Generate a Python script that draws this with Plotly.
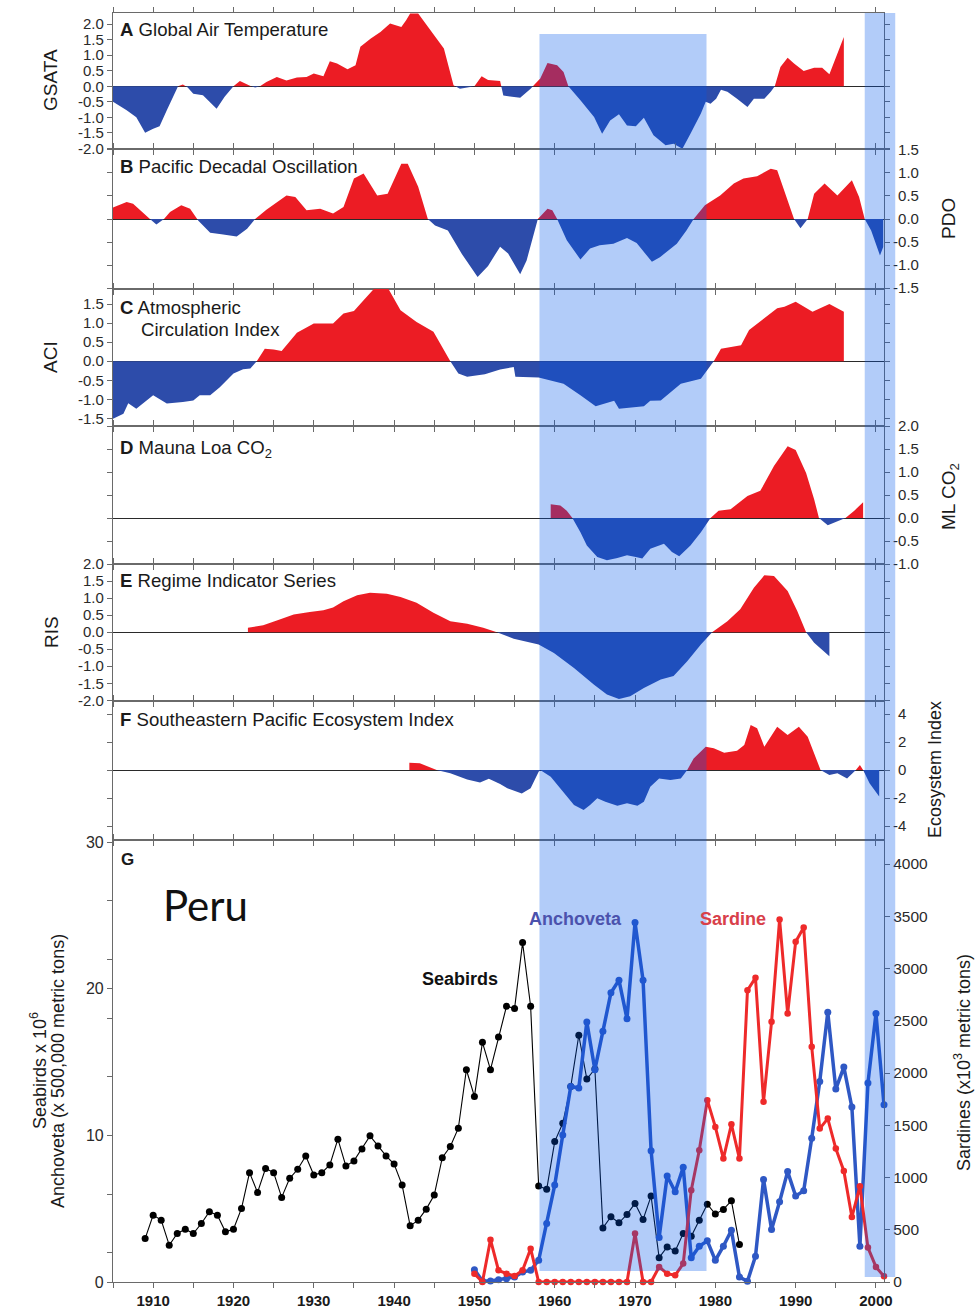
import plotly.graph_objects as go

# ---------------- DATA ----------------
# Panel A: Global Air Temperature (GSATA)
years_A = [1905.0, 1906.7, 1907.9, 1909.0, 1910.0, 1910.8, 1911.7, 1912.5, 1913.1, 1913.7, 1914.3, 1915.0,
           1916.2, 1917.9, 1918.9, 1920.0, 1920.8, 1921.8, 1922.7, 1923.3, 1924.1, 1925.4, 1926.6, 1927.9,
           1929.1, 1930.0, 1931.2, 1932.0, 1932.9, 1934.2, 1935.2, 1935.8, 1937.1, 1938.3, 1939.5, 1940.9,
           1941.5, 1942.0, 1943.0, 1944.5, 1946.2, 1947.4, 1948.2, 1949.2, 1950.0, 1950.9, 1951.7, 1953.2,
           1953.6, 1955.7, 1957.0, 1957.6, 1958.2, 1959.1, 1960.3, 1961.1, 1961.7, 1963.2, 1964.9, 1965.9,
           1966.9, 1968.0, 1969.0, 1970.1, 1971.1, 1972.3, 1973.8, 1974.8, 1975.9, 1976.9, 1978.2, 1978.8,
           1979.4, 1980.1, 1980.7, 1981.5, 1982.7, 1984.0, 1984.8, 1986.1, 1986.9, 1987.4, 1988.1, 1989.0,
           1989.8, 1991.0, 1992.3, 1993.3, 1994.2, 1995.2, 1996.0]
vals_A = [-0.5, -0.77, -1.0, -1.5, -1.37, -1.29, -0.77, -0.34, 0.0, 0.06, -0.04, -0.24,
          -0.29, -0.72, -0.34, 0.0, 0.17, 0.03, -0.04, 0.0, 0.14, 0.30, 0.19, 0.28,
          0.30, 0.41, 0.32, 0.81, 0.73, 0.55, 0.68, 1.27, 1.54, 1.75, 2.02, 1.91,
          2.13, 2.34, 2.34, 1.81, 1.22, 0.03, -0.08, -0.04, 0.0, 0.32, 0.20, 0.17,
          -0.30, -0.37, -0.08, 0.09, 0.25, 0.75, 0.68, 0.46, 0.0, -0.45, -0.99, -1.53,
          -1.10, -0.90, -1.26, -1.29, -1.01, -1.58, -1.90, -1.85, -2.01, -1.53, -0.88, -0.50,
          -0.56, -0.40, -0.11, -0.18, -0.40, -0.67, -0.40, -0.40, -0.18, 0.0, 0.62, 0.92,
          0.73, 0.49, 0.60, 0.60, 0.39, 1.05, 1.59]

# Panel B: Pacific Decadal Oscillation (PDO)
years_B = [1905.0, 1906.7, 1907.5, 1909.2, 1910.4, 1911.2, 1912.1, 1913.5, 1914.6, 1915.6, 1917.1, 1918.5,
           1920.4, 1921.7, 1922.7, 1924.1, 1925.4, 1926.6, 1927.7, 1929.1, 1930.8, 1932.4, 1933.7, 1935.0,
           1936.2, 1937.9, 1939.2, 1940.9, 1941.7, 1943.0, 1944.2, 1945.1, 1946.7, 1948.4, 1950.4, 1951.7,
           1953.2, 1954.2, 1955.7, 1956.5, 1957.9, 1959.1, 1959.7, 1960.3, 1961.5, 1963.2, 1964.4, 1965.6,
           1967.3, 1969.0, 1970.2, 1972.1, 1973.1, 1975.2, 1976.4, 1977.3, 1978.7, 1980.6, 1982.3, 1983.5,
           1985.2, 1986.9, 1987.7, 1989.8, 1990.6, 1991.5, 1992.3, 1993.6, 1995.2, 1997.0, 1997.9, 1998.6,
           1999.4, 2000.5, 2000.9]
vals_B = [0.25, 0.37, 0.33, 0.06, -0.12, -0.03, 0.15, 0.30, 0.22, -0.03, -0.30, -0.33,
          -0.38, -0.21, 0.0, 0.20, 0.37, 0.51, 0.48, 0.19, 0.22, 0.12, 0.26, 0.88,
          0.99, 0.51, 0.55, 1.20, 1.20, 0.70, 0.0, -0.14, -0.25, -0.75, -1.26, -1.02,
          -0.60, -0.75, -1.20, -0.90, 0.0, 0.22, 0.19, 0.0, -0.46, -0.88, -0.64, -0.57,
          -0.54, -0.41, -0.52, -0.93, -0.83, -0.54, -0.25, 0.0, 0.30, 0.51, 0.77, 0.88,
          0.93, 1.09, 1.06, 0.0, -0.20, 0.0, 0.55, 0.77, 0.51, 0.84, 0.48, 0.0,
          -0.25, -0.79, -0.61]

# Panel C: Atmospheric Circulation Index (ACI)
years_C = [1905.0, 1906.3, 1906.9, 1907.9, 1910.0, 1911.7, 1913.7, 1915.0, 1915.8, 1917.1, 1918.3, 1920.0,
           1921.2, 1922.1, 1922.9, 1923.9, 1925.0, 1926.0, 1927.9, 1930.0, 1932.4, 1933.7, 1935.0, 1936.2,
           1937.8, 1939.1, 1940.8, 1942.8, 1944.9, 1947.0, 1948.0, 1949.1, 1951.3, 1953.2, 1954.9, 1955.1,
           1958.0, 1959.5, 1961.1, 1963.2, 1965.1, 1967.4, 1968.0, 1971.1, 1971.9, 1973.2, 1975.7, 1978.2,
           1979.8, 1980.7, 1983.2, 1984.2, 1986.1, 1987.7, 1988.6, 1990.0, 1992.1, 1994.2, 1996.0]
vals_C = [-1.51, -1.38, -1.10, -1.25, -0.89, -1.11, -1.07, -1.03, -0.89, -0.89, -0.68, -0.32,
          -0.21, -0.19, 0.0, 0.33, 0.31, 0.27, 0.75, 0.99, 0.99, 1.25, 1.32, 1.60,
          1.97, 1.97, 1.34, 1.03, 0.77, 0.0, -0.32, -0.41, -0.34, -0.22, -0.15, -0.41,
          -0.43, -0.50, -0.59, -0.89, -1.18, -1.04, -1.25, -1.18, -1.04, -1.03, -0.59, -0.46,
          0.0, 0.33, 0.42, 0.82, 1.12, 1.39, 1.43, 1.56, 1.30, 1.50, 1.30]

# Panel D: Mauna Loa CO2
years_D = [1959.5, 1960.7, 1961.5, 1962.2, 1963.2, 1964.0, 1965.3, 1966.5, 1967.8, 1969.0, 1970.1, 1970.9,
           1971.9, 1973.6, 1974.6, 1975.5, 1976.9, 1978.2, 1979.4, 1980.4, 1981.9, 1984.0, 1985.6, 1987.3,
           1989.0, 1990.0, 1991.3, 1992.3, 1992.9, 1994.0, 1995.2, 1996.2, 1997.3, 1998.4]
vals_D = [0.30, 0.27, 0.16, 0.0, -0.31, -0.60, -0.85, -0.92, -0.87, -0.81, -0.85, -0.88,
          -0.67, -0.56, -0.74, -0.83, -0.60, -0.31, 0.0, 0.16, 0.19, 0.48, 0.59, 1.13,
          1.56, 1.48, 0.98, 0.41, 0.0, -0.16, -0.07, 0.0, 0.16, 0.34]

# Panel E: Regime Indicator Series (RIS)
years_E = [1921.8, 1923.7, 1925.4, 1927.5, 1929.5, 1931.2, 1932.4, 1933.7, 1935.4, 1937.0, 1939.1, 1940.8,
           1942.8, 1944.9, 1947.0, 1949.1, 1951.1, 1952.8, 1954.9, 1958.0, 1959.9, 1962.4, 1964.9, 1966.5,
           1968.0, 1969.4, 1971.1, 1973.2, 1974.8, 1976.5, 1978.2, 1979.6, 1981.5, 1983.1, 1984.8, 1986.1,
           1987.3, 1989.0, 1990.2, 1991.3, 1992.3, 1994.2]
vals_E = [0.13, 0.20, 0.34, 0.52, 0.59, 0.64, 0.72, 0.91, 1.08, 1.16, 1.13, 1.03,
          0.86, 0.57, 0.32, 0.25, 0.13, 0.0, -0.19, -0.36, -0.61, -1.05, -1.54, -1.83,
          -1.96, -1.88, -1.64, -1.39, -1.29, -0.85, -0.36, 0.0, 0.32, 0.67, 1.30, 1.67,
          1.65, 1.21, 0.62, 0.0, -0.31, -0.71]

# Panel F: Southeastern Pacific Ecosystem Index
years_F = [1941.9, 1943.2, 1945.3, 1947.0, 1949.1, 1950.7, 1951.8, 1953.2, 1954.1, 1955.9, 1957.0, 1958.0,
           1958.2, 1959.5, 1961.1, 1962.4, 1963.6, 1964.4, 1965.3, 1966.3, 1967.8, 1969.0, 1970.3, 1971.1,
           1971.9, 1973.0, 1974.4, 1975.7, 1976.5, 1977.3, 1978.8, 1979.8, 1981.1, 1982.7, 1983.6, 1984.4,
           1985.2, 1986.1, 1987.7, 1989.0, 1990.4, 1991.5, 1992.3, 1993.1, 1994.2, 1995.2, 1996.4, 1997.5,
           1998.0, 1998.4, 1999.2, 2000.4]
vals_F = [0.52, 0.48, 0.0, -0.24, -0.67, -0.90, -0.62, -1.00, -1.31, -1.67, -1.31, -0.12,
          0.0, -0.48, -1.55, -2.50, -2.86, -2.50, -2.02, -2.26, -2.55, -2.38, -2.55, -2.26,
          -1.19, -0.60, -0.71, -0.60, 0.0, 0.83, 1.67, 1.55, 1.24, 1.38, 1.79, 3.21,
          2.98, 1.67, 3.09, 2.50, 3.09, 2.38, 1.19, 0.0, -0.36, -0.24, -0.60, 0.0,
          0.36, 0.0, -0.95, -1.90]

# Panel G: Peru seabirds, anchoveta, sardines (annual)
years_seabirds = list(range(1909, 1984))
seabirds = [2.96, 4.56, 4.22, 2.51, 3.31, 3.60, 3.31, 3.99, 4.79, 4.56, 3.42, 3.60,
            5.02, 7.46, 6.11, 7.75, 7.46, 5.77, 7.07, 7.69, 8.60, 7.30,
            7.46, 7.98, 9.74, 7.91, 8.26, 9.08, 9.97, 9.28, 8.60, 8.05,
            6.61, 3.83, 4.22, 4.97, 5.93, 8.48, 9.24, 10.49, 14.48, 12.66,
            16.35, 14.48, 16.72, 18.81, 18.65, 23.15, 18.81, 6.55, 6.32, 9.58,
            10.83, 13.34, 16.83, 13.84, 14.53, 3.69, 4.45, 4.04, 4.61, 5.36,
            4.26, 5.86, 1.66, 2.39, 2.12, 3.31, 3.12, 4.22, 5.31, 4.63,
            4.95, 5.54, 2.55]
years_fish = list(range(1950, 2002))
anchoveta = [0.84, 0.07, 0.07, 0.16, 0.23, 0.34, 0.68, 0.80, 1.48, 3.99,
             6.61, 10.03, 13.34, 13.23, 17.74, 14.48, 17.10, 19.73, 20.59, 17.95,
             24.52, 20.59, 8.96, 3.03, 7.23, 6.16, 7.82, 1.66, 2.44, 2.81,
             1.48, 2.44, 3.53, 0.34, 0.05, 1.76, 7.00, 3.58, 5.47, 7.53,
             5.86, 6.23, 9.81, 13.68, 18.40, 13.16, 14.66, 11.93, 2.44, 13.57,
             18.31, 12.09]
sardines = [80, 0, 405, 112, 80, 57, 112, 319, 0, 0,
            0, 0, 0, 0, 0, 0, 0, 0, 0, 0,
            463, 0, 0, 144, 80, 64, 176, 878, 1261, 1740,
            1484, 1181, 1510, 1181, 2793, 2911, 1724, 2490, 3470, 2570,
            3256, 3393, 2251, 1468, 1564, 1277, 1063, 622, 916, 329,
            144, 54]

# Regime-shift bands (years)
band_start = [1958.1, 1998.6]
band_end = [1978.9, 2002.4]

# Tick values / labels
x_tick_vals = list(range(1910, 2001, 10))
x_tick_labels = ['1910', '1920', '1930', '1940', '1950', '1960', '1970', '1980', '1990', '2000']
ticks_A = [-2.0, -1.5, -1.0, -0.5, 0.0, 0.5, 1.0, 1.5, 2.0]
labels_A = ['-2.0', '-1.5', '-1.0', '-0.5', '0.0', '0.5', '1.0', '1.5', '2.0']
ticks_B = [-1.5, -1.0, -0.5, 0.0, 0.5, 1.0, 1.5]
labels_B = ['-1.5', '-1.0', '-0.5', '0.0', '0.5', '1.0', '1.5']
ticks_C = [-1.5, -1.0, -0.5, 0.0, 0.5, 1.0, 1.5]
labels_C = ['-1.5', '-1.0', '-0.5', '0.0', '0.5', '1.0', '1.5']
ticks_D = [-1.0, -0.5, 0.0, 0.5, 1.0, 1.5, 2.0]
labels_D = ['-1.0', '-0.5', '0.0', '0.5', '1.0', '1.5', '2.0']
ticks_E = [-2.0, -1.5, -1.0, -0.5, 0.0, 0.5, 1.0, 1.5, 2.0]
labels_E = ['-2.0', '-1.5', '-1.0', '-0.5', '0.0', '0.5', '1.0', '1.5', '2.0']
ticks_F = [-4, -2, 0, 2, 4]
labels_F = ['-4', '-2', '0', '2', '4']
ticks_G = [0, 10, 20, 30]
labels_G = ['0', '10', '20', '30']
ticks_sard = [0, 500, 1000, 1500, 2000, 2500, 3000, 3500, 4000]
labels_sard = ['0', '500', '1000', '1500', '2000', '2500', '3000', '3500', '4000']

# ---------------- STYLE / LAYOUT ----------------
W, H = 975, 1313
ML, MR, MT, MB = 113, 91, 13, 31
PW, PH = W - ML - MR, H - MT - MB
X0, X1 = 1905, 2001

RED = '#ec1c24'
BLUE = '#2d4caa'
ANCH = '#2f58c4'
SARD = '#ee2a2a'
AXC = '#6a6a6a'
FONT = 'Liberation Sans, Arial, sans-serif'


def fx(px):
    return (px - ML) / PW


def fy(py):
    return (H - MB - py) / PH


def yr2paper(year):
    return (year - X0) / (X1 - X0)


def split_pos_neg(xs, ys):
    ox, op, on = [], [], []
    for i in range(len(xs)):
        if i > 0:
            a, b = ys[i - 1], ys[i]
            if (a > 0 > b) or (a < 0 < b):
                t = a / (a - b)
                xc = xs[i - 1] + t * (xs[i] - xs[i - 1])
                ox.append(xc); op.append(0.0); on.append(0.0)
        ox.append(xs[i]); op.append(max(ys[i], 0.0)); on.append(min(ys[i], 0.0))
    return ox, op, on


def sid(i):
    return '' if i == 1 else str(i)


bounds = [13, 149, 289, 426, 564, 701, 840, 1282]

panels = [
    (years_A, vals_A, 'left', [-2.02, 2.36], ticks_A, labels_A),
    (years_B, vals_B, 'right', [-1.52, 1.52], ticks_B, labels_B),
    (years_C, vals_C, 'left', [-1.70, 1.895], ticks_C, labels_C),
    (years_D, vals_D, 'right', [-1.0, 2.0], ticks_D, labels_D),
    (years_E, vals_E, 'left', [-2.02, 2.0], ticks_E, labels_E),
    (years_F, vals_F, 'right', [-5.0, 4.93], ticks_F, labels_F),
]

fig = go.Figure()
layout_axes = {}
XMINOR = dict(tick0=1905, dtick=5, ticks='outside', ticklen=5, tickcolor=AXC, tickwidth=1)

for i, (xs, ys, side, rng, tv, tt) in enumerate(panels, start=1):
    s = sid(i)
    ox, op, on = split_pos_neg(xs, ys)
    fig.add_trace(go.Scatter(x=ox, y=op, xaxis='x' + s, yaxis='y' + s, mode='lines',
                             line=dict(width=0, color=RED), fill='tozeroy', fillcolor=RED,
                             hoverinfo='skip', showlegend=False))
    fig.add_trace(go.Scatter(x=ox, y=on, xaxis='x' + s, yaxis='y' + s, mode='lines',
                             line=dict(width=0, color=BLUE), fill='tozeroy', fillcolor=BLUE,
                             hoverinfo='skip', showlegend=False))
    if side == 'right':
        tt = [t if t.startswith('-') else '\u2004' + t for t in tt]
    layout_axes['xaxis' + s] = dict(domain=[0, 1], anchor='y' + s, range=[X0, X1], automargin=False,
                                    showline=True, linecolor=AXC, linewidth=1.2, mirror='ticks',
                                    ticks='outside', ticklen=5, tickcolor=AXC, tickwidth=1,
                                    tickmode='linear', tick0=1905, dtick=5, showticklabels=False,
                                    showgrid=False, zeroline=False)
    layout_axes['yaxis' + s] = dict(domain=[fy(bounds[i]), fy(bounds[i - 1])], anchor='x' + s,
                                    range=rng, side=side, tickmode='array', tickvals=tv, ticktext=tt,
                                    automargin=False,
                                    ticks='outside', ticklen=5, tickcolor=AXC, tickwidth=1,
                                    showline=True, linecolor=AXC, linewidth=1.2, mirror='ticks',
                                    showgrid=False, zeroline=True, zerolinecolor='#2a2a2a',
                                    zerolinewidth=1.2,
                                    tickfont=dict(family=FONT, size=15, color='#2a2a2a'))

# Panel G
fig.add_trace(go.Scatter(x=years_seabirds, y=seabirds, xaxis='x7', yaxis='y7', mode='lines+markers',
                         line=dict(color='black', width=1.1), marker=dict(color='black', size=7),
                         cliponaxis=False, showlegend=False, name='Seabirds'))
fig.add_trace(go.Scatter(x=years_fish, y=anchoveta, xaxis='x7', yaxis='y7', mode='lines+markers',
                         line=dict(color=ANCH, width=3.5), marker=dict(color=ANCH, size=7),
                         cliponaxis=False, showlegend=False, name='Anchoveta'))
fig.add_trace(go.Scatter(x=years_fish, y=sardines, xaxis='x7', yaxis='y8', mode='lines+markers',
                         line=dict(color=SARD, width=3), marker=dict(color=SARD, size=6.5),
                         cliponaxis=False, showlegend=False, name='Sardines'))

layout_axes['xaxis7'] = dict(domain=[0, 1], anchor='y7', range=[X0, X1], showline=True, automargin=False,
                             linecolor=AXC, linewidth=1.2, mirror='ticks', ticks='outside', ticklen=5,
                             tickcolor=AXC, tickmode='array', tickvals=x_tick_vals, ticktext=x_tick_labels,
                             minor=XMINOR, showgrid=False, zeroline=False,
                             tickfont=dict(family=FONT, size=15, color='#1a1a1a', weight='bold'))
layout_axes['yaxis7'] = dict(domain=[0, fy(840)], anchor='x7', range=[0, 30.15], side='left',
                             automargin=False,
                             tickmode='array', tickvals=ticks_G, ticktext=labels_G, ticks='outside',
                             ticklen=5, tickcolor=AXC, showline=True, linecolor=AXC, linewidth=1.2,
                             showgrid=False, zeroline=False,
                             minor=dict(tick0=2, dtick=4, ticks='outside', ticklen=5, tickcolor=AXC),
                             tickfont=dict(family=FONT, size=16, color='#2a2a2a'))
layout_axes['yaxis8'] = dict(overlaying='y7', anchor='x7', side='right', range=[0, 4230],
                             automargin=False,
                             tickmode='array', tickvals=ticks_sard, ticktext=labels_sard, ticks='outside',
                             ticklen=5, tickcolor=AXC, showline=True, linecolor=AXC, linewidth=1.2,
                             showgrid=False, zeroline=False,
                             tickfont=dict(family=FONT, size=15.5, color='#2a2a2a'))

# Bands
band_tops = [34, 13]
band_bottoms = [1271, 1277]
shapes = []
for bs, be, bt, bb in zip(band_start, band_end, band_tops, band_bottoms):
    shapes.append(dict(type='rect', xref='paper', yref='paper', x0=yr2paper(bs), x1=yr2paper(be),
                       y0=fy(bb), y1=fy(bt), line=dict(width=0), fillcolor='rgba(0,85,235,0.3)',
                       layer='above'))

# Annotations
annotations = []


def ann(text, x, y, size=18, color='#1a1a1a', angle=0, xanchor='left', family=FONT, bold=False):
    annotations.append(dict(text=text, x=fx(x), y=fy(y), xref='paper', yref='paper', showarrow=False,
                            xanchor=xanchor, yanchor='middle', textangle=angle,
                            font=dict(family=family, size=size, color=color,
                                      weight='bold' if bold else 'normal')))


ann('<b>A</b> Global Air Temperature', 118, 29, size=18.6)
ann('<b>B</b> Pacific Decadal Oscillation', 118, 167, size=18.6)
ann('<b>C</b> Atmospheric', 118, 307, size=18.6)
ann('Circulation Index', 139, 329, size=18.6)
ann('<b>D</b> Mauna Loa CO<sub>2</sub>', 118, 449, size=18.6)
ann('<b>E</b> Regime Indicator Series', 118, 580, size=18.6)
ann('<b>F</b> Southeastern Pacific Ecosystem Index', 118, 719, size=18.6)
ann('<b>G</b>', 119, 859, size=17)
ann('Peru', 161, 905, size=42, family='Lato, Noto Sans, sans-serif', color='#111111')
ann('Seabirds', 420, 979, bold=True, color='#111111')
ann('Anchoveta', 527, 919, bold=True, color='#4b52ad')
ann('Sardine', 698, 919, bold=True, color='#d8404a')

ann('GSATA', 51, 80, size=19, angle=-90, xanchor='center')
ann('ACI', 51, 357, size=19, angle=-90, xanchor='center')
ann('RIS', 51, 632, size=19, angle=-90, xanchor='center')
ann('PDO', 948, 219, size=19, angle=-90, xanchor='center')
ann('ML CO<sub>2</sub>', 950, 496, size=19, angle=-90, xanchor='center')
ann('Ecosystem Index', 935, 770, size=18, angle=-90, xanchor='center')
ann('Sardines (x10<sup>3</sup> metric tons)', 962, 1063, size=18, angle=-90, xanchor='center')
ann('Seabirds x 10<sup>6</sup>', 38, 1071, size=18, angle=-90, xanchor='center')
ann('Anchoveta (x 500,000 metric tons)', 58, 1071, size=18, angle=-90, xanchor='center')

fig.update_layout(width=W, height=H, margin=dict(l=ML, r=MR, t=MT, b=MB, autoexpand=False),
                  paper_bgcolor='white', plot_bgcolor='white',
                  font=dict(family=FONT, color='#1a1a1a'),
                  shapes=shapes, annotations=annotations, showlegend=False, **layout_axes)

# remove the browser's default 8px page margin so the figure sits at the window origin
fig.write_html('out.html', config={'displayModeBar': False},
               post_script="document.body.style.margin='0px';")
